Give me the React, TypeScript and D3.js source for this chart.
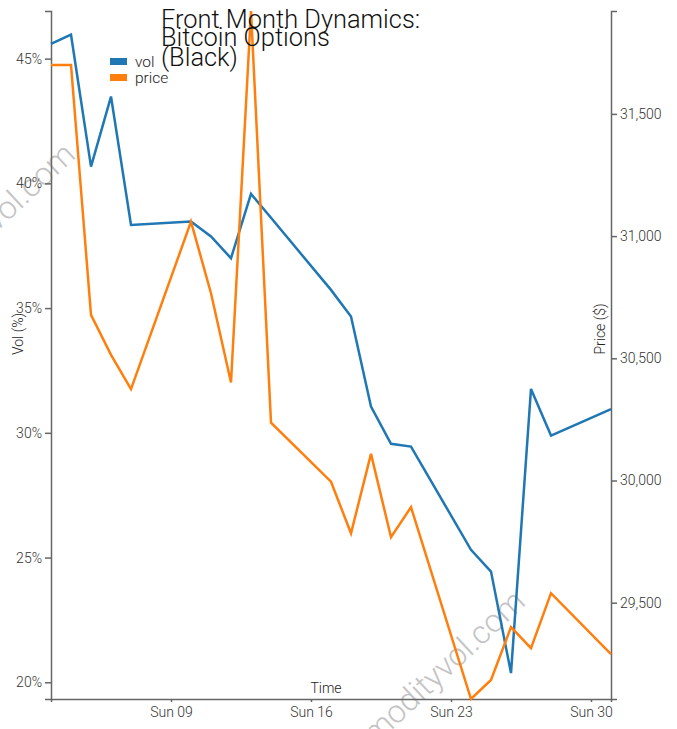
import React, { useEffect, useRef } from "react";
import * as d3 from "d3";

const dates = ["2023-07-03","2023-07-04","2023-07-05","2023-07-06","2023-07-07","2023-07-10","2023-07-11","2023-07-12","2023-07-13","2023-07-14","2023-07-17","2023-07-18","2023-07-19","2023-07-20","2023-07-21","2023-07-24","2023-07-25","2023-07-26","2023-07-27","2023-07-28","2023-07-31"];
const vol = [45.59,45.96,40.67,43.48,38.33,38.47,37.87,37.0,39.58,38.62,35.73,34.66,31.05,29.56,29.45,25.31,24.44,20.37,31.76,29.89,30.95];
const price = [31700,31700,30678,30514,30374,31059,30766,30401,31921,30237,29995,29784,30109,29768,29891,29106,29184,29400,29314,29539,29290];
const xDomain = ["2023-07-03", "2023-07-31"];
const xTicks = ["2023-07-09", "2023-07-16", "2023-07-23", "2023-07-30"];
const volDomain = [19.33, 46.91];
const volTicks = [20, 25, 30, 35, 40, 45];
const priceTicks = [29500, 30000, 30500, 31000, 31500];
const titleLines = ["Front Month Dynamics:", "Bitcoin Options", "(Black)"];
const seriesNames = ["vol", "price"];
const seriesColors = ["#1f77b4", "#ff7f0e"];

const W = 677, H = 729;
const L = 51, R = 611, T = 11, B = 699;
const FONT = "Roboto, 'Noto Sans', sans-serif";

export default function App() {
  const ref = useRef<SVGSVGElement>(null);
  useEffect(() => {
    const svg = d3.select(ref.current);
    svg.selectAll("*").remove();
    const parse = d3.utcParse("%Y-%m-%d");
    const xd = dates.map((d) => parse(d) as Date);
    const x = d3.scaleUtc().domain(xDomain.map((d) => parse(d) as Date)).range([L, R]);
    const yv = d3.scaleLinear().domain(volDomain).range([B, T]);
    const yp = d3.scaleLinear().domain(d3.extent(price) as [number, number]).range([B, T]);

    // watermarks
    const wm = svg.append("g").attr("font-family", FONT).attr("font-weight", 300).attr("font-size", 32).attr("fill", "#c4c4c4");
    wm.append("text").attr("transform", "translate(77,157) rotate(-43)").attr("text-anchor", "end").text("commodityvol.com");
    wm.append("text").attr("transform", "translate(527,604) rotate(-43)").attr("text-anchor", "end").text("commodityvol.com");

    const styleAxis = (g: any, size: number) => {
      g.attr("font-family", FONT).attr("font-size", size).attr("font-weight", 300);
      g.selectAll("path").attr("stroke", "#666").attr("stroke-width", 1.5);
      g.selectAll("line").attr("stroke", "#666").attr("stroke-width", 1.5);
      g.selectAll("text").attr("fill", "#333");
    };

    const gx = svg.append("g").attr("transform", `translate(0,${B})`)
      .call(d3.axisBottom(x).tickValues(xTicks.map((d) => parse(d) as Date)).tickFormat(d3.utcFormat("%a %d") as any).tickSize(3).tickSizeOuter(3).tickPadding(5));
    styleAxis(gx, 14);

    const gl = svg.append("g").attr("transform", `translate(${L},0)`)
      .call(d3.axisLeft(yv).tickValues(volTicks).tickFormat((d: any) => `${d}%`).tickSize(6).tickPadding(3));
    styleAxis(gl, 14);

    const gr = svg.append("g").attr("transform", `translate(${R},0)`)
      .call(d3.axisRight(yp).tickValues(priceTicks).tickFormat(d3.format(",")).tickSize(6).tickPadding(3));
    styleAxis(gr, 14);

    const lab = svg.append("g").attr("font-family", FONT).attr("font-weight", 300).attr("font-size", 14).attr("fill", "#222");
    lab.append("text").attr("transform", "translate(23,334) rotate(-90)").attr("text-anchor", "middle").text("Vol (%)");
    lab.append("text").attr("transform", "translate(605,329) rotate(-90)").attr("text-anchor", "middle").text("Price ($)");
    lab.append("text").attr("x", 326).attr("y", 693).attr("text-anchor", "middle").text("Time");

    const lineV = d3.line<number>().x((_, i) => x(xd[i])).y((d) => yv(d));
    const lineP = d3.line<number>().x((_, i) => x(xd[i])).y((d) => yp(d));
    svg.append("path").attr("d", lineV(vol)).attr("fill", "none").attr("stroke", seriesColors[0]).attr("stroke-width", 2.5);
    svg.append("path").attr("d", lineP(price)).attr("fill", "none").attr("stroke", seriesColors[1]).attr("stroke-width", 2.5);

    const title = svg.append("text").attr("font-family", FONT).attr("font-weight", 300).attr("font-size", 25.4).attr("fill", "#111");
    const tys = [28, 46, 66];
    titleLines.forEach((t, i) => title.append("tspan").attr("x", 161).attr("y", tys[i]).text(t));

    const leg = svg.append("g").attr("font-family", FONT).attr("font-weight", 300).attr("font-size", 15.5).attr("fill", "#222");
    seriesNames.forEach((n, i) => {
      leg.append("rect").attr("x", 110).attr("y", 58 + i * 16).attr("width", 17).attr("height", 7).attr("fill", seriesColors[i]);
      leg.append("text").attr("x", 135).attr("y", 67 + i * 15.5).text(n);
    });
  }, []);
  return (
    <svg ref={ref} width={W} height={H} style={{ position: "absolute", left: 0, top: 0, background: "#fff" }} />
  );
}
